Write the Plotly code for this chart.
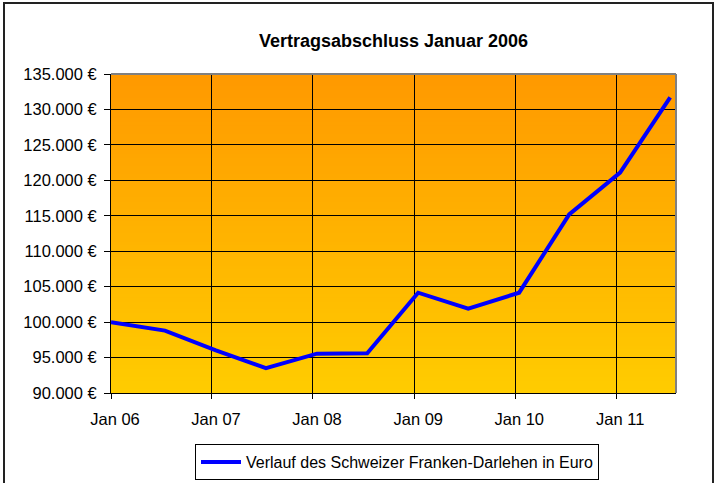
import plotly.graph_objects as go

# ---- data ----
dates = ["2006-01-01", "2006-07-15", "2007-01-15", "2007-07-15", "2008-01-15", "2008-07-15",
         "2009-01-15", "2009-07-15", "2010-01-15", "2010-07-15", "2011-01-15", "2011-07-15"]
values = [100000, 98800, 96000, 93500, 95550, 95600,
          104150, 101900, 104150, 115200, 121100, 131700]
series_name = "Verlauf des Schweizer Franken-Darlehen in Euro"
title_text = "Vertragsabschluss Januar 2006"
x_tickvals = ["2006-01-01", "2007-01-01", "2008-01-01", "2009-01-01", "2010-01-01", "2011-01-01"]
x_ticklabels = ["Jan 06", "Jan 07", "Jan 08", "Jan 09", "Jan 10", "Jan 11"]
y_tickvals = [90000, 95000, 100000, 105000, 110000, 115000, 120000, 125000, 130000, 135000]
y_ticklabels = [f"{v:,}".replace(",", ".") + " €" for v in y_tickvals]

W, H = 719, 483
L, R, T, B = 111, 43, 74, 90
pw, ph = W - L - R, H - T - B

fig = go.Figure()
fig.add_trace(go.Scatter(x=dates, y=values, mode="lines", name=series_name,
                         line=dict(color="#0000FF", width=4), showlegend=True))

# gradient background of plot area
shapes = []
n = 80
top = (255, 153, 0)
bot = (255, 204, 0)
for i in range(n):
    f = i / (n - 1)
    c = tuple(round(top[k] + (bot[k] - top[k]) * f) for k in range(3))
    y1 = 1 - i / n
    y0 = 1 - (i + 1) / n - 0.004
    shapes.append(dict(type="rect", xref="x domain", yref="y domain", x0=0, x1=1,
                       y0=max(y0, 0), y1=y1, fillcolor="rgb(%d,%d,%d)" % c,
                       line=dict(width=0), layer="below"))
# grey top/right plot border
shapes.append(dict(type="line", xref="x domain", yref="y domain", x0=0, x1=1, y0=1, y1=1,
                   line=dict(color="#808080", width=2), layer="above"))
shapes.append(dict(type="line", xref="x domain", yref="y domain", x0=1, x1=1, y0=0, y1=1,
                   line=dict(color="#808080", width=2), layer="above"))
# outer chart frame
shapes.append(dict(type="rect", xref="paper", yref="paper",
                   x0=(4 - L) / pw, x1=(713 - L) / pw,
                   y0=(ph - (H + 10 - T)) / ph, y1=(ph - (3 - T)) / ph,
                   line=dict(color="#222222", width=2), fillcolor="rgba(0,0,0,0)", layer="above"))

fig.update_layout(
    width=W, height=H,
    margin=dict(l=L, r=R, t=T, b=B, pad=0, autoexpand=False),
    paper_bgcolor="white", plot_bgcolor="#FFCC00",
    font=dict(family="Liberation Sans, Arial, sans-serif", color="black", size=16.5),
    title=dict(text="<b>" + title_text + "</b>", x=0.5, xref="paper", xanchor="center",
               y=1 - 41 / H, yanchor="middle", font=dict(size=18)),
    shapes=shapes,
    showlegend=True,
    legend=dict(orientation="h", x=(397 - L) / pw, xanchor="center", y=(ph - (444 - T)) / ph,
                yanchor="top", bordercolor="black", borderwidth=1, bgcolor="white",
                font=dict(size=16), itemwidth=40),
)
fig.update_xaxes(type="date", range=["2006-01-01", "2011-08-05"],
                 tickvals=x_tickvals, ticktext=x_ticklabels,
                 showgrid=True, gridcolor="black", gridwidth=1,
                 showline=True, linecolor="black", linewidth=1,
                 ticks="outside", ticklen=5, tickcolor="black",
                 ticklabelstandoff=6, ticklabelshift=4, zeroline=False, automargin=False)
fig.update_yaxes(range=[90000, 135000], tickvals=y_tickvals, ticktext=y_ticklabels,
                 showgrid=True, gridcolor="black", gridwidth=1,
                 showline=True, linecolor="black", linewidth=1,
                 ticks="outside", ticklen=6, tickcolor="black",
                 ticklabelstandoff=4, zeroline=False, automargin=False)

fig.write_html("out.html", config={"displayModeBar": False},
               post_script="document.body.style.margin='0';")
